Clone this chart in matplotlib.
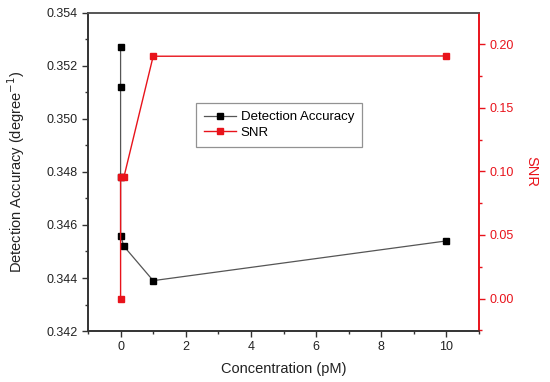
import matplotlib
matplotlib.use("Agg")
import matplotlib.pyplot as plt
from matplotlib.ticker import MultipleLocator, FormatStrFormatter

plt.rcParams['font.family'] = ['Liberation Sans', 'DejaVu Sans']

conc_acc = [0, 0, 0, 0, 0.1, 1, 10]
accuracy = [0.3527, 0.3512, 0.3478, 0.3456, 0.3452, 0.3439, 0.3454]
conc_snr = [0, 0, 0.1, 1, 10]
snr = [0.0, 0.0953, 0.0953, 0.1905, 0.1907]

fig = plt.figure(figsize=(5.5, 3.82), dpi=100)
ax = fig.add_axes([0.16, 0.1335, 0.711, 0.8325])
ax2 = ax.twinx()

l1, = ax.plot(conc_acc, accuracy, color='#555555', lw=0.9, marker='s', ms=4.5,
              mfc='black', mec='black', label='Detection Accuracy', zorder=3)
l2, = ax2.plot(conc_snr, snr, color='#e8131b', lw=1.0, marker='s', ms=4.5,
               mfc='#e8131b', mec='#e8131b', label='SNR', zorder=3)

ax.set_xlim(-1, 11)
ax.set_ylim(0.342, 0.354)
ax2.set_ylim(-0.0255, 0.2245)

ax.xaxis.set_major_locator(MultipleLocator(2))
ax.xaxis.set_minor_locator(MultipleLocator(1))
ax.yaxis.set_major_locator(MultipleLocator(0.002))
ax.yaxis.set_minor_locator(MultipleLocator(0.001))
ax.yaxis.set_major_formatter(FormatStrFormatter('%.3f'))
ax2.yaxis.set_major_locator(MultipleLocator(0.05))
ax2.yaxis.set_minor_locator(MultipleLocator(0.025))
ax2.yaxis.set_major_formatter(FormatStrFormatter('%.2f'))

dark = '#333333'
red = '#e8131b'
for a in (ax, ax2):
    a.spines['left'].set_color(dark)
    a.spines['bottom'].set_color(dark)
    a.spines['top'].set_color('#555555')
    a.spines['right'].set_color(red)
    for s in a.spines.values():
        s.set_linewidth(1.2)

ax.tick_params(axis='both', which='major', direction='out', length=4, width=1, colors=dark, labelsize=9)
ax.tick_params(axis='both', which='minor', direction='out', length=2.5, width=1, colors=dark)
ax.tick_params(axis='x', labelcolor='#222222')
ax.tick_params(axis='y', labelcolor='#222222')
ax2.tick_params(axis='y', which='major', direction='out', length=4, width=1, colors=red, labelsize=9)
ax2.tick_params(axis='y', which='minor', direction='out', length=2.5, width=1, colors=red)

ax.set_xlabel('Concentration (pM)', fontsize=10.5, color='#222222', labelpad=6)
ax.set_ylabel('Detection Accuracy (degree$^{-1}$)', fontsize=10.5, color='#222222', labelpad=14)
ax2.set_ylabel('SNR', fontsize=10.5, color=red, rotation=-90, labelpad=18)

leg = ax.legend(handles=[l1, l2], loc='upper left', bbox_to_anchor=(0.276, 0.717),
                borderaxespad=0, frameon=True, fancybox=False, fontsize=9.5,
                handlelength=2.4, borderpad=0.6, labelspacing=0.25, handletextpad=0.4)
leg.get_frame().set_edgecolor('#777777')
leg.get_frame().set_linewidth(0.9)

fig.savefig('out.png', dpi=100)
